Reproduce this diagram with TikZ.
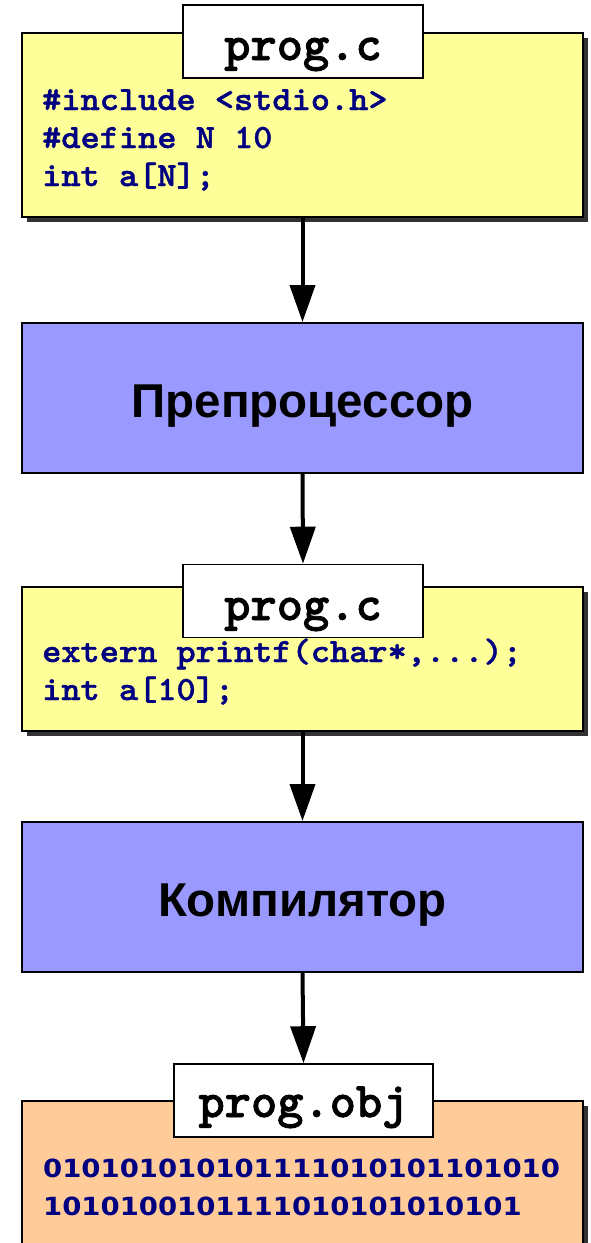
\documentclass[tikz,border=0pt]{standalone}
\usepackage{fontspec}
\newfontfamily\titlefont{Liberation Sans}
\newfontfamily\binfont{DejaVu Sans}
\newfontfamily\codefont{lmmonolt10-bold}[Extension=.otf, FakeBold=1.2]
\newfontfamily\labfont{lmmonolt10-bold}[Extension=.otf, FakeBold=1.6]
\usetikzlibrary{arrows.meta,shadows}
\definecolor{ylw}{HTML}{FFFF99}
\definecolor{blu}{HTML}{9999FF}
\definecolor{org}{HTML}{FFCC99}
\definecolor{navy}{RGB}{0,0,128}
\newcommand\sxcode[1]{\scalebox{1.075}[1]{#1}}
\newcommand\sxbin[1]{\scalebox{1.1}[1]{#1}}
\tikzset{
  filebox/.style={draw=black, line width=2pt, minimum width=561pt, inner sep=0pt,
    drop shadow={shadow xshift=5pt, shadow yshift=-5pt, fill=black, opacity=0.8}},
  procbox/.style={draw=black, line width=2pt, fill=blu, minimum width=561pt, minimum height=150pt, inner sep=0pt},
  labelbox/.style={draw=black, line width=1.6pt, fill=white, minimum height=73pt, inner sep=0pt},
  labeltext/.style={font=\labfont\fontsize{50}{55}\selectfont, text=black, inner sep=0pt, anchor=base},
  codetext/.style={font=\codefont\fontsize{34}{38}\selectfont, text=navy, inner sep=0pt, anchor=base west},
  bintext/.style={font=\binfont\bfseries\fontsize{25}{28}\selectfont, text=navy, inner sep=0pt, anchor=base west},
  titletext/.style={font=\titlefont\bfseries\fontsize{47.5}{50}\selectfont, text=black, inner sep=0pt, anchor=base},
  flow/.style={line width=4pt, -{Triangle[length=37pt,width=25pt]}}
}
\begin{document}
\begin{tikzpicture}[x=1pt,y=-1pt]
\useasboundingbox (0,0) rectangle (590,1243);
\clip (0,0) rectangle (590,1243);
% file 1
\node[filebox, fill=ylw, minimum height=184pt] (f1) at (302.5,125) {};
\node[labelbox, minimum width=240pt] (l1) at (303,41.5) {};
\node[labeltext] (l1t) at (303,60) {prog.c};
\node[codetext] (c1a) at (42,110) {\sxcode{\#include <stdio.h>}};
\node[codetext] (c1b) at (42,148) {\sxcode{\#define N 10}};
\node[codetext] (c1c) at (42,186) {\sxcode{int a[N];}};
% preprocessor
\node[procbox] (f2) at (302.5,398) {};
\node[titletext] (t2) at (302.5,417) {Препроцессор};
% file 2
\node[filebox, fill=ylw, minimum height=144pt] (f3) at (302.5,659) {};
\node[labelbox, minimum width=240pt] (l3) at (303,601) {};
\node[labeltext] (l3t) at (303,620) {prog.c};
\node[codetext] (c3a) at (42,662) {\sxcode{extern printf(char*,...);}};
\node[codetext] (c3b) at (42,700) {\sxcode{int a[10];}};
% compiler
\node[procbox] (f4) at (302.5,897) {};
\node[titletext] (t4) at (302.5,916) {Компилятор};
% object file
\node[filebox, fill=org, minimum height=170pt] (f5) at (302.5,1186) {};
\node[labelbox, minimum width=259pt] (l5) at (303.5,1100.5) {};
\node[labeltext] (l5t) at (303.5,1117) {prog.obj};
\node[bintext] (b5a) at (43,1177) {\sxbin{010101010101111010101101010}};
\node[bintext] (b5b) at (43,1215) {\sxbin{1010100101111010101010101}};
% arrows
\draw[flow] (f1.south) -- (f2.north);
\draw[flow] (f2.south) -- (l3.north);
\draw[flow] (f3.south) -- (f4.north);
\draw[flow] (f4.south) -- (l5.north);
\end{tikzpicture}
\end{document}
